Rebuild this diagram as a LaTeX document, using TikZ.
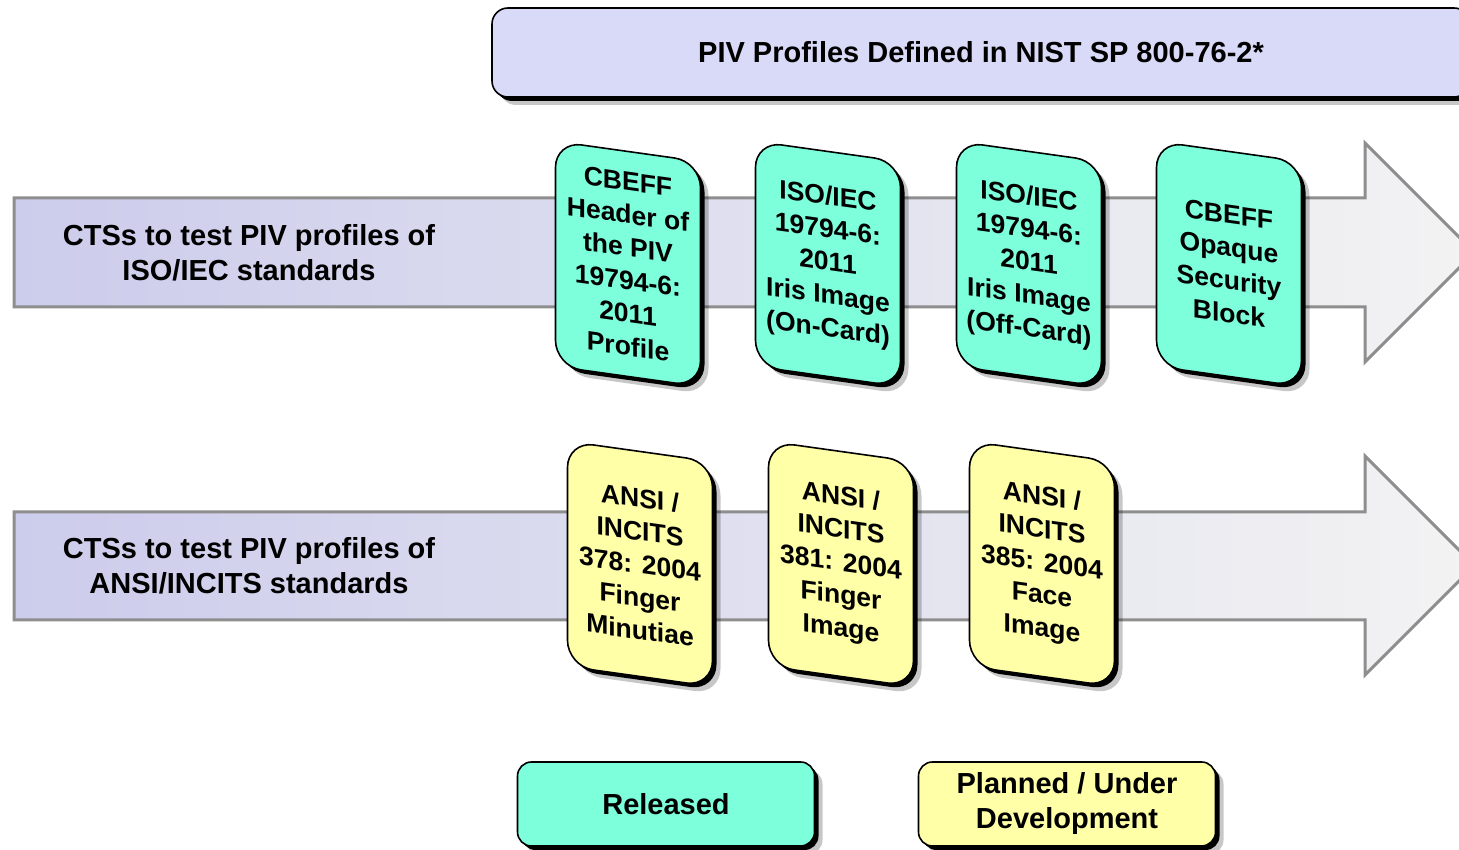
\documentclass[tikz,border=0pt]{standalone}
\usepackage{fontspec}
\setmainfont{Liberation Sans}
\usetikzlibrary{shadows}
\definecolor{cardcyan}{HTML}{7DFFDC}
\definecolor{cardyellow}{HTML}{FFFFA8}
\definecolor{lav}{HTML}{D9D9F8}
\definecolor{arrowleft}{HTML}{CCCCEC}
\definecolor{arrowright}{HTML}{F3F3F3}
\definecolor{arrowborder}{HTML}{8E8E8E}
\begin{document}
\begin{tikzpicture}[x=1pt,y=1pt,
  bigtext/.style={font=\bfseries\fontsize{29}{35}\selectfont, align=center},
  shadowed/.style={draw=black, line width=1.6pt,
    drop shadow={shadow xshift=8pt, shadow yshift=-8pt, opacity=0.22, fill=black},
    general shadow={shadow xshift=4pt, shadow yshift=-4pt, fill=black}},
  card/.style={shadowed, font=\bfseries\fontsize{26.5}{33}\selectfont, align=center,
    rounded corners=26pt, minimum width=145pt, minimum height=225pt,
    inner sep=0pt, transform shape},
  cyancard/.style={card, fill=cardcyan},
  yellowcard/.style={card, fill=cardyellow},
  legendbox/.style={shadowed, bigtext, rounded corners=14pt,
    minimum width=297pt, minimum height=84pt, inner sep=0pt},
  bigarrow/.style={draw=arrowborder, line width=3pt, left color=arrowleft, right color=arrowright}
]
\useasboundingbox (0,0) rectangle (1459,850);
\fill[white] (0,0) rectangle (1459,850);
\clip (0,0) rectangle (1459,850);

% title banner
\node[shadowed, bigtext, fill=lav, rounded corners=16pt, minimum width=978pt,
  minimum height=89pt, inner sep=0pt] (title) at (981,797.5)
  {PIV Profiles Defined in NIST SP 800-76-2*};

% arrows
\path[bigarrow] (14,652) -- (1365,652) -- (1365,707) -- (1474.5,597.5)
  -- (1365,488) -- (1365,543) -- (14,543) -- cycle;
\path[bigarrow] (14,338) -- (1365,338) -- (1365,394) -- (1474.5,284.5)
  -- (1365,175) -- (1365,230) -- (14,230) -- cycle;

\node[bigtext] (row1) at (249,597) {CTSs to test PIV profiles of\\ISO/IEC standards};
\node[bigtext] (row2) at (249,284) {CTSs to test PIV profiles of\\ANSI/INCITS standards};

% row 1 cards
\begin{scope}[shift={(628,586)}, yslant=-0.14]
  \node[cyancard] (c1) {CBEFF\\Header of\\the PIV\\19794-6:\\2011\\Profile};
\end{scope}
\begin{scope}[shift={(828,586)}, yslant=-0.14]
  \node[cyancard] (c2) {ISO/IEC\\19794-6:\\2011\\Iris Image\\(On-Card)};
\end{scope}
\begin{scope}[shift={(1029,586)}, yslant=-0.14]
  \node[cyancard] (c3) {ISO/IEC\\19794-6:\\2011\\Iris Image\\(Off-Card)};
\end{scope}
\begin{scope}[shift={(1229,586)}, yslant=-0.14]
  \node[cyancard] (c4) {CBEFF\\Opaque\\Security\\Block};
\end{scope}

% row 2 cards
\begin{scope}[shift={(640,286)}, yslant=-0.14]
  \node[yellowcard] (d1) {ANSI /\\INCITS\\378: 2004\\Finger\\Minutiae};
\end{scope}
\begin{scope}[shift={(841,286)}, yslant=-0.14]
  \node[yellowcard] (d2) {ANSI /\\INCITS\\381: 2004\\Finger\\Image};
\end{scope}
\begin{scope}[shift={(1042,286)}, yslant=-0.14]
  \node[yellowcard] (d3) {ANSI /\\INCITS\\385: 2004\\Face\\Image};
\end{scope}

% legend
\node[legendbox, fill=cardcyan] (released) at (666,46) {Released};
\node[legendbox, fill=cardyellow] (planned) at (1067,46) {Planned / Under\\Development};
\end{tikzpicture}
\end{document}
